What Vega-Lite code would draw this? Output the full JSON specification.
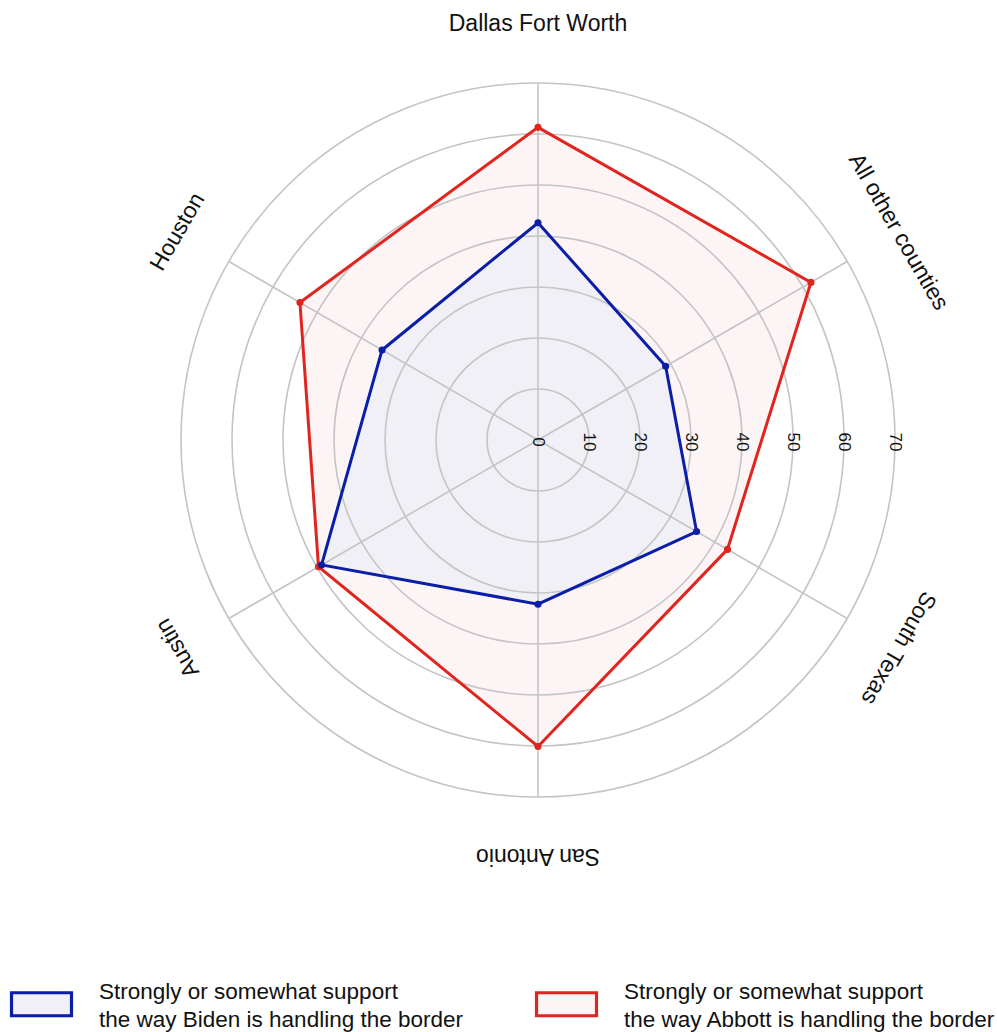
{
  "$schema": "https://vega.github.io/schema/vega-lite/v6.json",
  "width": 997,
  "height": 1032,
  "autosize": "none",
  "padding": 0,
  "background": "white",
  "config": {"view": {"stroke": null}, "style": {"guide-label": {"lineHeight": 28}}},
  "datasets": {
    "vals": [
      {"series": "Abbott", "region": "Dallas Fort Worth", "value": 61.3},
      {"series": "Abbott", "region": "All other counties", "value": 61.8},
      {"series": "Abbott", "region": "South Texas", "value": 42.9},
      {"series": "Abbott", "region": "San Antonio", "value": 60.1},
      {"series": "Abbott", "region": "Austin", "value": 49.7},
      {"series": "Abbott", "region": "Houston", "value": 53.9},
      {"series": "Biden", "region": "Dallas Fort Worth", "value": 42.6},
      {"series": "Biden", "region": "All other counties", "value": 28.9},
      {"series": "Biden", "region": "South Texas", "value": 35.9},
      {"series": "Biden", "region": "San Antonio", "value": 32.2},
      {"series": "Biden", "region": "Austin", "value": 49.0},
      {"series": "Biden", "region": "Houston", "value": 35.3}
    ],
    "regions": [
      {"region": "Dallas Fort Worth"},
      {"region": "All other counties"},
      {"region": "South Texas"},
      {"region": "San Antonio"},
      {"region": "Austin"},
      {"region": "Houston"}
    ],
    "rings": [{"r": 10}, {"r": 20}, {"r": 30}, {"r": 40}, {"r": 50}, {"r": 60}, {"r": 70}],
    "ticks": [{"t": 0}, {"t": 10}, {"t": 20}, {"t": 30}, {"t": 40}, {"t": 50}, {"t": 60}, {"t": 70}]
  },
  "layer": [
    {
      "data": {"name": "vals"},
      "transform": [
        {"filter": "datum.series == 'Abbott'"},
        {"calculate": "indexof(['Dallas Fort Worth','All other counties','South Texas','San Antonio','Austin','Houston'], datum.region)", "as": "idx"},
        {"calculate": "datum.value * sin(datum.idx * PI / 3)", "as": "px"},
        {"calculate": "datum.value * cos(datum.idx * PI / 3)", "as": "py"}
      ],
      "mark": {"type": "line", "interpolate": "linear-closed", "strokeWidth": 0, "strokeOpacity": 0},
      "encoding": {
        "x": {"field": "px", "type": "quantitative", "scale": {"domain": [-105.49, 90], "range": [0, 997], "nice": false, "zero": false}, "axis": null},
        "y": {"field": "py", "type": "quantitative", "scale": {"domain": [-116.08, 86.27], "range": [1032, 0], "nice": false, "zero": false}, "axis": null},
        "order": {"field": "idx", "type": "quantitative"},
        "fill": {
          "field": "series", "type": "nominal",
          "scale": {"domain": ["Biden", "Abbott"], "range": ["#f2f0f7", "#fdf5f5"]},
          "legend": {
            "orient": "none", "legendX": 14.5, "legendY": 977, "direction": "horizontal", "columns": 2,
            "title": null, "padding": 0,
            "symbolType": "M-1.2,-0.46H1.2V0.46H-1.2Z", "symbolSize": 2500, "symbolStrokeWidth": 3.2,
            "labelFont": "Liberation Sans", "labelFontSize": 22.5, "labelColor": "#111111", "labelOffset": 30.5, "labelLimit": 0,
            "labelBaseline": "bottom",
            "columnPadding": 66,
            "labelExpr": "['Strongly or somewhat support', 'the way ' + datum.label + ' is handling the border']"
          }
        }
      }
    },
    {
      "data": {"name": "vals"},
      "transform": [
        {"filter": "datum.series == 'Biden'"},
        {"calculate": "indexof(['Dallas Fort Worth','All other counties','South Texas','San Antonio','Austin','Houston'], datum.region)", "as": "idx"},
        {"calculate": "datum.value * sin(datum.idx * PI / 3)", "as": "px"},
        {"calculate": "datum.value * cos(datum.idx * PI / 3)", "as": "py"}
      ],
      "mark": {"type": "line", "interpolate": "linear-closed", "strokeWidth": 0, "strokeOpacity": 0},
      "encoding": {
        "x": {"field": "px", "type": "quantitative", "scale": {"domain": [-105.49, 90], "range": [0, 997], "nice": false, "zero": false}, "axis": null},
        "y": {"field": "py", "type": "quantitative", "scale": {"domain": [-116.08, 86.27], "range": [1032, 0], "nice": false, "zero": false}, "axis": null},
        "order": {"field": "idx", "type": "quantitative"},
        "fill": {"field": "series", "type": "nominal", "scale": {"domain": ["Biden", "Abbott"], "range": ["#f2f0f7", "#fdf5f5"]}}
      }
    },
    {
      "data": {"name": "rings"},
      "transform": [
        {"calculate": "0", "as": "cx"},
        {"calculate": "0", "as": "cy"}
      ],
      "mark": {"type": "arc", "theta": 0, "theta2": 6.2832, "filled": false, "stroke": "#c4c4c4", "strokeWidth": 1.6},
      "encoding": {
        "x": {"field": "cx", "type": "quantitative", "scale": {"domain": [-105.49, 90], "range": [0, 997], "nice": false, "zero": false}, "axis": null},
        "y": {"field": "cy", "type": "quantitative", "scale": {"domain": [-116.08, 86.27], "range": [1032, 0], "nice": false, "zero": false}, "axis": null},
        "radius": {"field": "r", "type": "quantitative", "stack": null, "scale": {"type": "linear", "domain": [0, 70], "range": [0, 357], "zero": true}}
      }
    },
    {
      "data": {"name": "regions"},
      "transform": [
        {"calculate": "indexof(['Dallas Fort Worth','All other counties','South Texas','San Antonio','Austin','Houston'], datum.region) * PI / 3", "as": "rad"},
        {"calculate": "0", "as": "sx"},
        {"calculate": "0", "as": "sy"},
        {"calculate": "70 * sin(datum.rad)", "as": "ex"},
        {"calculate": "70 * cos(datum.rad)", "as": "ey"}
      ],
      "mark": {"type": "rule", "stroke": "#c4c4c4", "strokeWidth": 1.6},
      "encoding": {
        "x": {"field": "sx", "type": "quantitative", "scale": {"domain": [-105.49, 90], "range": [0, 997], "nice": false, "zero": false}, "axis": null},
        "y": {"field": "sy", "type": "quantitative", "scale": {"domain": [-116.08, 86.27], "range": [1032, 0], "nice": false, "zero": false}, "axis": null},
        "x2": {"field": "ex"},
        "y2": {"field": "ey"}
      }
    },
    {
      "data": {"name": "vals"},
      "transform": [
        {"calculate": "indexof(['Dallas Fort Worth','All other counties','South Texas','San Antonio','Austin','Houston'], datum.region)", "as": "idx"},
        {"calculate": "datum.value * sin(datum.idx * PI / 3)", "as": "px"},
        {"calculate": "datum.value * cos(datum.idx * PI / 3)", "as": "py"}
      ],
      "mark": {"type": "line", "interpolate": "linear-closed", "strokeWidth": 3, "strokeJoin": "miter"},
      "encoding": {
        "x": {"field": "px", "type": "quantitative", "scale": {"domain": [-105.49, 90], "range": [0, 997], "nice": false, "zero": false}, "axis": null},
        "y": {"field": "py", "type": "quantitative", "scale": {"domain": [-116.08, 86.27], "range": [1032, 0], "nice": false, "zero": false}, "axis": null},
        "order": {"field": "idx", "type": "quantitative"},
        "stroke": {"field": "series", "type": "nominal", "scale": {"domain": ["Biden", "Abbott"], "range": ["#0a1ea8", "#e0251f"]}}
      }
    },
    {
      "data": {"name": "vals"},
      "transform": [
        {"calculate": "indexof(['Dallas Fort Worth','All other counties','South Texas','San Antonio','Austin','Houston'], datum.region)", "as": "idx"},
        {"calculate": "datum.value * sin(datum.idx * PI / 3)", "as": "px"},
        {"calculate": "datum.value * cos(datum.idx * PI / 3)", "as": "py"}
      ],
      "mark": {"type": "point", "filled": true, "size": 50, "opacity": 1},
      "encoding": {
        "x": {"field": "px", "type": "quantitative", "scale": {"domain": [-105.49, 90], "range": [0, 997], "nice": false, "zero": false}, "axis": null},
        "y": {"field": "py", "type": "quantitative", "scale": {"domain": [-116.08, 86.27], "range": [1032, 0], "nice": false, "zero": false}, "axis": null},
        "color": {"field": "series", "type": "nominal", "scale": {"domain": ["Biden", "Abbott"], "range": ["#0a1ea8", "#e0251f"]}, "legend": null}
      }
    },
    {
      "data": {"name": "regions"},
      "transform": [
        {"calculate": "indexof(['Dallas Fort Worth','All other counties','South Texas','San Antonio','Austin','Houston'], datum.region)", "as": "idx"},
        {"calculate": "datum.idx * 60", "as": "deg"},
        {"calculate": "81.6 * sin(datum.idx * PI / 3)", "as": "lx"},
        {"calculate": "81.6 * cos(datum.idx * PI / 3)", "as": "ly"}
      ],
      "mark": {"type": "text", "align": "center", "baseline": "middle", "font": "Liberation Sans", "fontSize": 23, "fill": "#111111"},
      "encoding": {
        "x": {"field": "lx", "type": "quantitative", "scale": {"domain": [-105.49, 90], "range": [0, 997], "nice": false, "zero": false}, "axis": null},
        "y": {"field": "ly", "type": "quantitative", "scale": {"domain": [-116.08, 86.27], "range": [1032, 0], "nice": false, "zero": false}, "axis": null},
        "text": {"field": "region", "type": "nominal"},
        "angle": {"field": "deg", "type": "quantitative", "scale": null}
      }
    },
    {
      "data": {"name": "ticks"},
      "transform": [{"calculate": "-0.4", "as": "ty"}],
      "mark": {"type": "text", "align": "center", "baseline": "middle", "angle": 90, "font": "Liberation Sans", "fontSize": 17, "fill": "#111111"},
      "encoding": {
        "x": {"field": "t", "type": "quantitative", "scale": {"domain": [-105.49, 90], "range": [0, 997], "nice": false, "zero": false}, "axis": null},
        "y": {"field": "ty", "type": "quantitative", "scale": {"domain": [-116.08, 86.27], "range": [1032, 0], "nice": false, "zero": false}, "axis": null},
        "text": {"field": "t", "type": "quantitative"}
      }
    }
  ]
}
